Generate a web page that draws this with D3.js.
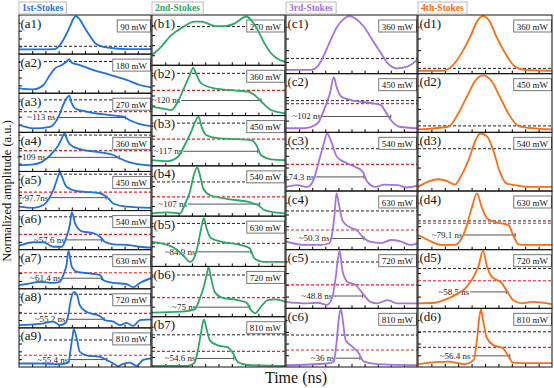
<!DOCTYPE html>
<html>
<head>
<meta charset="utf-8">
<script src="https://d3js.org/d3.v7.min.js"></script>
<style>
body { margin: 0; background: #fff; }
svg text { font-family: "Liberation Serif", "Times New Roman", serif; }
</style>
</head>
<body>
<div id="chart"></div>
<script>
// time in ns (0-200), amplitude normalised per panel (0 = bottom, 1 = top)
var tTicks = [20, 40, 60, 80, 100, 120, 140, 160, 180];
var vTicks = [0.2, 0.4, 0.6, 0.8];

// 1st-Stokes
var sa1 = [[0,0.12],[30,0.12],[54,0.13],[62,0.23],[70,0.45],[77,0.70],[83,0.92],[86,0.97],[92,0.89],[100,0.66],[108,0.45],[115,0.29],[123,0.21],[138,0.16],[163,0.13],[200,0.13]];
var sa2 = [[0,0.125],[22,0.10],[37,0.21],[47,0.47],[55,0.64],[65,0.72],[72,0.81],[76,0.87],[80,0.78],[92,0.72],[113,0.59],[138,0.47],[163,0.34],[183,0.21],[200,0.15]];
var sa3 = [[0,0.19],[22,0.10],[47,0.14],[60,0.40],[67,0.70],[72,0.87],[76,0.94],[80,0.74],[85,0.61],[102,0.53],[138,0.44],[158,0.40],[168,0.31],[183,0.21],[200,0.16]];
var sa4 = [[0,0.16],[22,0.18],[42,0.33],[52,0.50],[60,0.68],[65,0.85],[69,0.98],[72,0.85],[77,0.69],[92,0.57],[123,0.49],[143,0.42],[153,0.33],[168,0.23],[183,0.18],[200,0.15]];
var sa5 = [[0,0.10],[22,0.07],[37,0.14],[47,0.35],[53,0.57],[58,0.82],[62,0.98],[66,0.82],[72,0.61],[87,0.50],[108,0.47],[123,0.44],[133,0.35],[143,0.18],[163,0.10],[200,0.07]];
var sa6 = [[0,0.10],[22,0.19],[37,0.19],[52,0.075],[65,0.075],[72,0.33],[77,0.63],[80,0.96],[85,0.67],[95,0.47],[113,0.42],[123,0.33],[130,0.20],[143,0.135],[163,0.12],[183,0.075],[200,0.05]];
var sa7 = [[0,0.095],[17,0.14],[32,0.18],[52,0.15],[62,0.18],[68,0.39],[72,0.61],[75,0.97],[80,0.56],[88,0.43],[108,0.39],[123,0.35],[128,0.22],[143,0.15],[163,0.12],[173,0.04],[183,0.15],[200,0.27]];
var sa8 = [[0,0.07],[32,0.10],[52,0.16],[62,0.07],[71,0.13],[75,0.37],[78,0.67],[83,0.92],[88,0.84],[92,0.58],[102,0.41],[123,0.30],[130,0.20],[143,0.16],[153,0.07],[163,0.13],[173,0.05],[183,0.20],[200,0.22]];
var sa9 = [[0,0.09],[32,0.09],[62,0.07],[75,0.11],[78,0.43],[81,0.77],[83,0.96],[88,0.69],[92,0.39],[102,0.30],[123,0.26],[133,0.18],[143,0.09],[150,0.02],[156,0.07],[168,0.11],[178,0.03],[188,0.18],[200,0.22]];
var powerA = ["90 mW","180 mW","270 mW","360 mW","450 mW","540 mW","630 mW","720 mW","810 mW"];
var dashA = [0.2, 0.81, 0.83, 0.93, 0.93, 0.84, 0.82, 0.86, 0.69];
var redA = [null, null, 0.53, 0.53, 0.47, 0.39, 0.41, 0.37, 0.30];
var widthA = [null, null, [57,161,0.38], [42,152,0.36], [46,132,0.33], [71,125,0.25], [65,125,0.27], [72,129,0.22], [76,133,0.19]];
var widthTextA = [null, null, "~113 ns", "~109 ns", "~97.7ns", "~57.6 ns", "~61.4 ns", "~55.2 ns", "~55.4 ns"];

// 2nd-Stokes
var sb1 = [[0,0.20],[14,0.37],[29,0.60],[44,0.74],[64,0.87],[74,0.87],[84,0.83],[94,0.78],[109,0.78],[124,0.83],[142,0.97],[149,0.90],[159,0.70],[169,0.44],[179,0.24],[192,0.105],[200,0.07]];
var sb2 = [[0,0.18],[14,0.145],[29,0.11],[39,0.28],[49,0.57],[57,0.81],[62,0.95],[67,0.81],[74,0.64],[94,0.54],[124,0.50],[144,0.475],[154,0.41],[167,0.245],[179,0.11],[200,0.045]];
var sb3 = [[0,0.115],[24,0.095],[39,0.18],[49,0.41],[59,0.68],[65,0.88],[70,0.98],[75,0.76],[82,0.61],[99,0.55],[129,0.53],[149,0.51],[157,0.41],[164,0.21],[179,0.13],[200,0.115]];
var sb4 = [[0,0.055],[24,0.075],[42,0.055],[49,0.22],[57,0.485],[63,0.82],[68,0.97],[72,0.82],[77,0.55],[87,0.42],[114,0.34],[149,0.27],[159,0.22],[169,0.12],[185,0.075],[200,0.055]];
var sb5 = [[0,0.49],[14,0.46],[34,0.36],[49,0.19],[57,0.09],[64,0.19],[69,0.425],[74,0.76],[78,0.96],[82,0.76],[89,0.56],[109,0.48],[134,0.425],[147,0.36],[154,0.16],[167,0.09],[200,0.09]];
var sb6 = [[0,0.08],[44,0.10],[64,0.145],[71,0.33],[78,0.60],[82,0.83],[85,0.98],[89,0.76],[94,0.50],[104,0.385],[129,0.33],[142,0.28],[149,0.13],[155,0.07],[164,0.20],[174,0.33],[185,0.345],[200,0.30]];
var sb7 = [[0,0.02],[54,0.02],[64,0.085],[69,0.33],[74,0.70],[78,0.945],[82,0.76],[87,0.53],[99,0.43],[114,0.39],[122,0.27],[129,0.10],[144,0.04],[200,0.02]];
var powerB = ["270 mW","360 mW","450 mW","540 mW","630 mW","720 mW","810 mW"];
var dashB = [0.77, 0.84, 0.85, 0.68, 0.855, 0.83, 0.64];
var redB = [null, 0.50, 0.53, 0.385, 0.46, 0.38, 0.31];
var widthB = [null, [44,164,0.30], [47,159,0.29], [54,162,0.24], [67,149,0.29], [68,147,0.19], [67,123,0.17]];
var widthTextB = [null, "~120 ns", "~117 ns", "~107 ns", "~84.9 ns", "~75 ns", "~54.6 ns"];

// 3rd-Stokes
var sc1 = [[0,0.063],[38,0.063],[48,0.12],[58,0.32],[68,0.57],[78,0.80],[89,0.94],[96,0.98],[106,0.94],[119,0.80],[132,0.57],[145,0.35],[155,0.18],[170,0.09],[185,0.12],[200,0.23]];
var sc2 = [[0,0.07],[27,0.07],[48,0.15],[58,0.38],[67,0.66],[73,0.94],[77,0.78],[84,0.61],[99,0.55],[129,0.50],[145,0.465],[152,0.35],[160,0.21],[173,0.095],[200,0.07]];
var sc3 = [[0,0.07],[17,0.10],[33,0.07],[43,0.22],[50,0.50],[57,0.78],[63,0.98],[69,0.84],[78,0.58],[94,0.47],[106,0.41],[117,0.33],[124,0.16],[137,0.07],[150,0.11],[170,0.10],[185,0.06],[200,0.09]];
var sc4 = [[0,0.14],[27,0.08],[53,0.08],[66,0.11],[71,0.31],[74,0.59],[77,0.96],[81,0.76],[86,0.505],[96,0.39],[109,0.32],[117,0.22],[127,0.14],[145,0.11],[160,0.165],[175,0.14],[190,0.08],[200,0.11]];
var sc5 = [[0,0.11],[27,0.085],[48,0.095],[63,0.06],[71,0.20],[76,0.54],[79,0.82],[82,0.98],[86,0.65],[94,0.45],[106,0.40],[117,0.255],[129,0.11],[139,0.085],[155,0.14],[170,0.085],[200,0.085]];
var sc6 = [[0,0.03],[63,0.06],[73,0.09],[77,0.40],[81,0.86],[84,0.98],[87,0.77],[91,0.46],[101,0.35],[111,0.235],[119,0.09],[139,0.05],[200,0.03]];
var powerC = ["360 mW","450 mW","540 mW","630 mW","720 mW","810 mW"];
var dashC = [0.26, 0.54, 0.72, 0.66, 0.79, 0.545];
var redC = [null, 0.49, 0.455, 0.335, 0.40, 0.29];
var widthC = [null, [55,160,0.27], [45,119,0.24], [68,119,0.19], [72,117,0.21], [76,113,0.15]];
var widthTextC = [null, "~102 ns", "~74.3 ns", "~50.3 ns", "~48.8 ns", "~36 ns"];

// 4th-Stokes
var sd1 = [[0,0.05],[35,0.05],[50,0.12],[65,0.35],[78,0.63],[88,0.89],[97,0.98],[107,0.89],[117,0.63],[130,0.35],[145,0.12],[160,0.063],[200,0.05]];
var sd2 = [[0,0.05],[45,0.095],[60,0.32],[73,0.61],[85,0.87],[97,0.97],[110,0.87],[122,0.61],[135,0.32],[150,0.11],[170,0.07],[200,0.05]];
var sd3 = [[0,0.07],[15,0.16],[30,0.20],[45,0.16],[55,0.11],[65,0.27],[78,0.61],[85,0.84],[93,0.98],[103,0.93],[113,0.67],[122,0.33],[132,0.13],[145,0.10],[165,0.07],[200,0.07]];
var sd4 = [[0,0.25],[15,0.165],[35,0.08],[55,0.08],[65,0.19],[73,0.42],[80,0.705],[88,0.96],[95,0.73],[103,0.535],[115,0.47],[135,0.42],[142,0.25],[150,0.09],[165,0.08],[200,0.08]];
var sd5 = [[0,0.085],[25,0.095],[45,0.17],[60,0.255],[73,0.37],[83,0.54],[90,0.71],[97,0.98],[103,0.71],[110,0.54],[125,0.43],[132,0.31],[142,0.14],[155,0.085],[170,0.11],[200,0.07]];
var sd6 = [[0,0.05],[45,0.09],[70,0.05],[83,0.12],[88,0.46],[91,0.80],[94,0.98],[97,0.80],[103,0.49],[113,0.37],[127,0.32],[135,0.18],[142,0.075],[165,0.065],[200,0.065]];
var powerD = ["360 mW","450 mW","540 mW","630 mW","720 mW","810 mW"];
var dashD = [0.09, 0.11, 0.72, 0.49, 0.68, 0.60];
var redD = [null, null, null, 0.45, 0.47, 0.335];
var widthD = [null, null, null, [68,145,0.25], [78,132,0.28], [80,137,0.19]];
var widthTextD = [null, null, null, "~79.1 ns", "~58.5 ns", "~56.4 ns"];

var columns = [
  {title: "1st-Stokes", key: "a", color: "#1f6fe5", x0: 19,  x1: 151, series: [sa1,sa2,sa3,sa4,sa5,sa6,sa7,sa8,sa9], power: powerA, dash: dashA, red: redA, width: widthA, widthText: widthTextA},
  {title: "2nd-Stokes", key: "b", color: "#2ba866", x0: 152, x1: 285, series: [sb1,sb2,sb3,sb4,sb5,sb6,sb7], power: powerB, dash: dashB, red: redB, width: widthB, widthText: widthTextB},
  {title: "3rd-Stokes", key: "c", color: "#a572e2", x0: 286, x1: 417, series: [sc1,sc2,sc3,sc4,sc5,sc6], power: powerC, dash: dashC, red: redC, width: widthC, widthText: widthTextC},
  {title: "4th-Stokes", key: "d", color: "#ff6b12", x0: 418, x1: 552, series: [sd1,sd2,sd3,sd4,sd5,sd6], power: powerD, dash: dashD, red: redD, width: widthD, widthText: widthTextD}
];

var TOP = 15, BOTTOM = 367;

var svg = d3.select("#chart").append("svg")
    .attr("width", 554)
    .attr("height", 388);

var line = d3.line()
    .curve(d3.curveMonotoneX);

columns.forEach(function(col) {
    var n = col.series.length,
        h = (BOTTOM - TOP) / n;

    var x = d3.scaleLinear().domain([0, 200]).range([col.x0, col.x1]);

    col.series.forEach(function(data, i) {
        var top = TOP + i * h,
            bot = top + h;
        var y = d3.scaleLinear().domain([0, 1]).range([bot, top]);
        var id = col.key + (i + 1);

        var g = svg.append("g").attr("class", "panel");

        g.append("clipPath")
            .attr("id", "clip-" + id)
          .append("rect")
            .attr("x", col.x0).attr("y", top)
            .attr("width", col.x1 - col.x0).attr("height", h);

        // ticks inside the frame
        g.append("g")
            .attr("transform", "translate(0," + bot + ")")
            .call(d3.axisBottom(x).tickValues(tTicks).tickSize(-3).tickFormat(""))
            .call(function(s) { s.select(".domain").remove(); });
        g.append("g")
            .attr("transform", "translate(" + col.x0 + ",0)")
            .call(d3.axisLeft(y).tickValues(vTicks).tickSize(-3).tickFormat(""))
            .call(function(s) { s.select(".domain").remove(); });

        // black dashed level
        if (col.dash[i] != null) {
            g.append("line")
                .attr("x1", col.x0).attr("x2", col.x1)
                .attr("y1", y(col.dash[i])).attr("y2", y(col.dash[i]))
                .attr("stroke", "#222").attr("stroke-width", 1)
                .attr("stroke-dasharray", "3,2");
        }
        // red dashed half maximum
        if (col.red[i] != null) {
            g.append("line")
                .attr("x1", col.x0).attr("x2", col.x1)
                .attr("y1", y(col.red[i])).attr("y2", y(col.red[i]))
                .attr("stroke", "#e8232a").attr("stroke-width", 1.2)
                .attr("stroke-dasharray", "3,2");
        }
        // pulse width marker
        if (col.width[i] != null) {
            var w = col.width[i];
            g.append("line")
                .attr("x1", x(w[0])).attr("x2", x(w[1]))
                .attr("y1", y(w[2])).attr("y2", y(w[2]))
                .attr("stroke", "#555").attr("stroke-width", 1);
            g.append("line")
                .attr("x1", x(w[1])).attr("x2", x(w[1]))
                .attr("y1", y(w[2]) - 2).attr("y2", y(w[2]) + 2)
                .attr("stroke", "#555").attr("stroke-width", 1);
            g.append("text")
                .attr("x", x(w[0]) - 1)
                .attr("y", y(w[2]))
                .attr("dy", "0.33em")
                .attr("text-anchor", "end")
                .attr("font-size", 9)
                .attr("fill", "#222")
                .text(col.widthText[i]);
        }

        // panel label with white backing
        var lab = g.append("text")
            .attr("x", col.x0 + 1.5)
            .attr("y", top + 12.5)
            .attr("font-size", 13)
            .attr("fill", "#111")
            .text("(" + id + ")");
        var bb = lab.node().getBBox();
        g.insert("rect", function() { return lab.node(); })
            .attr("x", bb.x).attr("y", top + 1)
            .attr("width", bb.width + 1).attr("height", 13)
            .attr("fill", "#fff");

        // power box
        var pt = g.append("text")
            .attr("font-size", 9)
            .attr("fill", "#111")
            .attr("text-anchor", "end")
            .attr("x", col.x1 - 4)
            .attr("y", top + 14.5)
            .text(col.power[i]);
        var pb = pt.node().getBBox();
        g.insert("rect", function() { return pt.node(); })
            .attr("x", pb.x - 3).attr("y", top + 5)
            .attr("width", pb.width + 6).attr("height", 12)
            .attr("fill", "#fff")
            .attr("stroke", "#777").attr("stroke-width", 1);

        // the trace
        g.append("path")
            .datum(data.map(function(d) { return [x(d[0]), y(d[1])]; }))
            .attr("clip-path", "url(#clip-" + id + ")")
            .attr("fill", "none")
            .attr("stroke", col.color)
            .attr("stroke-width", 1.8)
            .attr("d", line);

        // frame
        g.append("rect")
            .attr("x", col.x0).attr("y", top)
            .attr("width", col.x1 - col.x0).attr("height", h)
            .attr("fill", "none")
            .attr("stroke", "#111").attr("stroke-width", 1);
    });

    // column header
    var ht = svg.append("text")
        .attr("x", col.x0 + 3)
        .attr("y", 11)
        .attr("font-size", 9.5)
        .attr("font-weight", "bold")
        .attr("fill", col.color)
        .text(col.title);
    var hb = ht.node().getBBox();
    svg.insert("rect", function() { return ht.node(); })
        .attr("x", col.x0).attr("y", 2)
        .attr("width", hb.width + 6).attr("height", 12)
        .attr("fill", "#fff")
        .attr("stroke", "#bbb").attr("stroke-width", 1);
});

// axis titles
svg.append("text")
    .attr("transform", "translate(11,191) rotate(-90)")
    .attr("text-anchor", "middle")
    .attr("font-size", 12.5)
    .attr("fill", "#111")
    .text("Normalized amplitude (a.u.)");

svg.append("text")
    .attr("x", 296)
    .attr("y", 383)
    .attr("text-anchor", "middle")
    .attr("font-size", 16)
    .attr("fill", "#111")
    .text("Time (ns)");
</script>
</body>
</html>
